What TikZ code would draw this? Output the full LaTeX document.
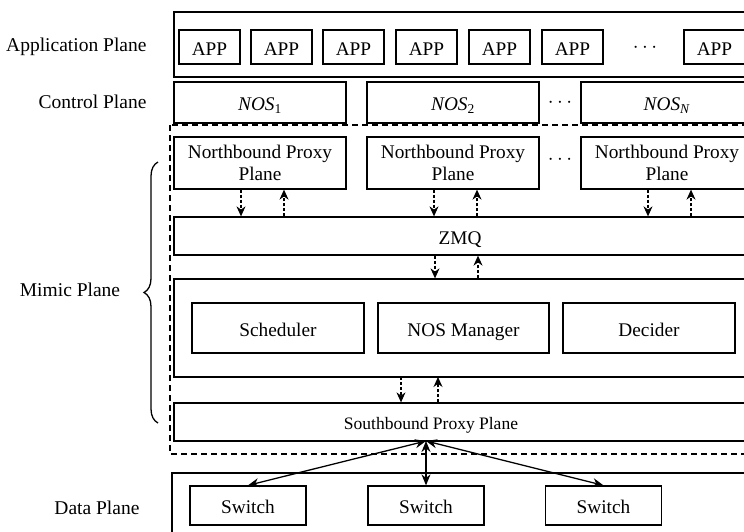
\documentclass[tikz,border=0pt]{standalone}
\usepackage{fontspec}
\setmainfont{Liberation Serif}
\usetikzlibrary{arrows.meta, decorations.pathreplacing}

\begin{document}
\begin{tikzpicture}[x=1pt, y=-1pt,
    font=\fontsize{19.3}{22}\selectfont,
    box/.style={draw, line width=1.3pt, inner sep=0pt, align=center},
    tbox/.style={box, text height=18pt, text depth=2pt},
    lbl/.style={font=\fontsize{19.5}{22}\selectfont},
    darrow/.style={line width=1.1pt, dash pattern=on 3pt off 2pt, -{Stealth[length=10pt, width=9pt]}},
    sarrow/.style={line width=1.3pt, {Stealth[length=11pt, width=9pt]}-{Stealth[length=11pt, width=9pt]}}]
    \useasboundingbox (0,0) rectangle (744,531);
    \clip (0,0) rectangle (744,531);
    \node[lbl, anchor=east] (la) at (150,47) {Application Plane};
    \node[lbl, anchor=east] (lc) at (150,102) {Control Plane};
    \node[lbl] (lm) at (70,290) {Mimic Plane};
    \node[lbl, anchor=east] (ld) at (143,508) {Data Plane};
    \draw[line width=1.3pt, decorate, decoration={brace, amplitude=14pt}] (158,423) -- (158,162);
    \node[box, minimum width=576pt, minimum height=65pt] (ap) at (462,44.5) {};
    \foreach \x [count=\i] in {209.5,281.5,353.5,426.5,499.5,572.5,714.5}
        \node[tbox, minimum width=61pt, minimum height=34pt] (app\i) at (\x,47) {APP};
    \node (d1) at (645,48) {$\cdots$};
    \node[tbox, minimum width=172pt, minimum height=41pt] (nos1) at (260,102.5) {\textit{NOS}\textsubscript{1}};
    \node[tbox, minimum width=172pt, minimum height=41pt] (nos2) at (453,102.5) {\textit{NOS}\textsubscript{2}};
    \node[tbox, minimum width=172pt, minimum height=41pt] (nos3) at (667,102.5) {\textit{NOS}\textsubscript{\textit{N}}};
    \node (d2) at (560,103) {$\cdots$};
    \draw[line width=1.3pt, dash pattern=on 6pt off 4pt] (170,125) rectangle (750,454);
    \node[box, minimum width=172pt, minimum height=52pt] (np1) at (260,163) {Northbound Proxy\\Plane};
    \node[box, minimum width=172pt, minimum height=52pt] (np2) at (453,163) {Northbound Proxy\\Plane};
    \node[box, minimum width=172pt, minimum height=52pt] (np3) at (667,163) {Northbound Proxy\\Plane};
    \node (d3) at (560,160) {$\cdots$};
    \node[tbox, minimum width=572pt, minimum height=38pt] (zmq) at (460,236) {ZMQ};
    \node[box, minimum width=572pt, minimum height=98pt] (mid) at (460,328) {};
    \node[tbox, minimum width=172pt, minimum height=50pt] (sch) at (278,328) {Scheduler};
    \node[tbox, minimum width=171pt, minimum height=50pt] (mgr) at (463.5,328) {NOS Manager};
    \node[tbox, minimum width=172pt, minimum height=50pt] (dec) at (649,328) {Decider};
    \node[box, minimum width=572pt, minimum height=38pt] (sb) at (460,422) {};
    \node[font=\fontsize{17.5}{21}\selectfont, text height=16pt, text depth=2pt] (sbl) at (431,422) {Southbound Proxy Plane};
    \node[box, minimum width=578pt, minimum height=70pt] (dp) at (461,508) {};
    \node[tbox, minimum width=116pt, minimum height=39pt] (sw1) at (248,505.5) {Switch};
    \node[tbox, minimum width=116pt, minimum height=39pt] (sw2) at (426,505.5) {Switch};
    \node[tbox, minimum width=116pt, minimum height=39pt] (sw3) at (603.5,505.5) {Switch};
    \foreach \n in {np1,np2,np3} {
        \draw[darrow] ([xshift=-19pt]\n.south) -- ([xshift=-19pt]\n.south |- zmq.north);
        \draw[darrow] ([xshift=24pt]\n.south |- zmq.north) -- ([xshift=24pt]\n.south);
    }
    \draw[darrow] ([xshift=-18pt]np2.south |- zmq.south) -- ([xshift=-18pt]np2.south |- mid.north);
    \draw[darrow] ([xshift=25pt]np2.south |- mid.north) -- ([xshift=25pt]np2.south |- zmq.south);
    \coordinate (m1) at (401,377);
    \coordinate (m2) at (438,377);
    \draw[darrow] (m1) -- (m1 |- sb.north);
    \draw[darrow] (m2 |- sb.north) -- (m2);
    \coordinate (sbp) at (426,441);
    \draw[sarrow] (sbp) -- (sw1.north);
    \draw[sarrow] (sbp) -- (sw2.north);
    \draw[sarrow] (sbp) -- (sw3.north);
\end{tikzpicture}
\end{document}
